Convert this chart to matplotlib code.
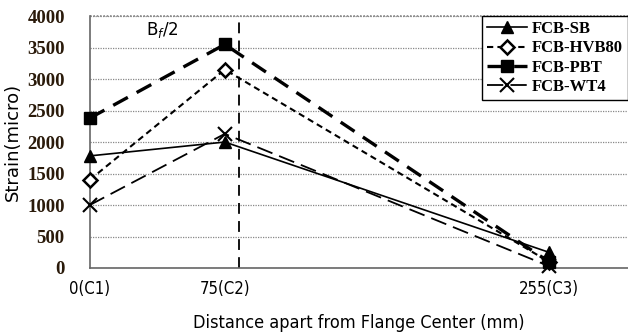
import matplotlib
matplotlib.use('Agg')
import matplotlib.pyplot as plt
from matplotlib.font_manager import FontProperties

# positions along flange (mm) and tick labels
dist = [0, 75, 255]
tick_labels = ['0(C1)', '75(C2)', '255(C3)']

# strain values (micro)
sb = [1780, 2000, 250]
hvb80 = [1400, 3150, 100]
pbt = [2380, 3550, 100]
wt4 = [1000, 2130, 30]

bf_half = 83  # Bf/2 marker line

fig = plt.figure(figsize=(6.28, 3.35), dpi=100)
ax = fig.add_axes([0.143, 0.2, 0.857, 0.752])

serif = ['Liberation Serif', 'DejaVu Serif']
cond = FontProperties(family='DejaVu Sans', stretch='condensed', size=12)
cond_big = FontProperties(family='DejaVu Sans', stretch='condensed', size=13)

ax.plot(dist, sb, color='black', lw=1.2, marker='^', ms=8, label='FCB-SB',
        clip_on=False, zorder=5)
ax.plot(dist, hvb80, color='black', lw=1.5, ls=(0, (3, 2)), marker='D', ms=7,
        mfc='white', mec='black', mew=1.8, label='FCB-HVB80', clip_on=False, zorder=5)
ax.plot(dist, pbt, color='black', lw=2.4, ls=(0, (5, 3)), marker='s', ms=9,
        label='FCB-PBT', clip_on=False, zorder=5)
ax.plot(dist, wt4, color='black', lw=1.3, ls=(0, (9, 4)), marker='x', ms=10,
        mew=1.5, label='FCB-WT4', clip_on=False, zorder=5)

ax.axvline(bf_half, color='black', lw=1.3, ls=(0, (6, 4)))
ax.text(31, 3700, 'B$_f$/2', fontsize=12, family='DejaVu Sans')

ax.set_xlim(0, 299)
ax.set_ylim(0, 4000)
ax.set_yticks(range(0, 4001, 500))
ax.set_xticks(dist)
ax.set_xticklabels(tick_labels)
for lbl in ax.get_xticklabels():
    lbl.set_fontproperties(cond)
for lbl in ax.get_yticklabels():
    lbl.set_fontproperties(FontProperties(family=serif, weight='bold', size=13.5))
    lbl.set_color('#2a1a0a')
ax.tick_params(axis='y', length=0, pad=18)
ax.tick_params(axis='x', length=0, pad=9)

ax.grid(axis='y', color='#888888', ls=(0, (1, 1)), lw=0.9)
ax.set_axisbelow(True)
for s in ['top', 'right']:
    ax.spines[s].set_visible(False)
ax.axhline(4000, color='#888888', ls=(0, (1, 1)), lw=1.2, clip_on=False)
ax.spines['left'].set_color('#666666')
ax.spines['bottom'].set_color('#666666')
ax.spines['left'].set_linewidth(1.2)
ax.spines['bottom'].set_linewidth(1.2)

ax.set_ylabel('Strain(micro)', fontsize=13, family='DejaVu Sans', labelpad=4)
ax.set_xlabel('Distance apart from Flange Center (mm)', fontproperties=cond_big,
              labelpad=11)

leg = ax.legend(loc='upper right', prop={'family': serif, 'weight': 'bold',
                'size': 12}, frameon=True, fancybox=False,
                edgecolor='black', framealpha=1, borderaxespad=0.0,
                handlelength=2.4, labelspacing=0.2, borderpad=0.3,
                handletextpad=0.3)
leg.get_frame().set_linewidth(1.0)

fig.savefig('out.png', dpi=100)
